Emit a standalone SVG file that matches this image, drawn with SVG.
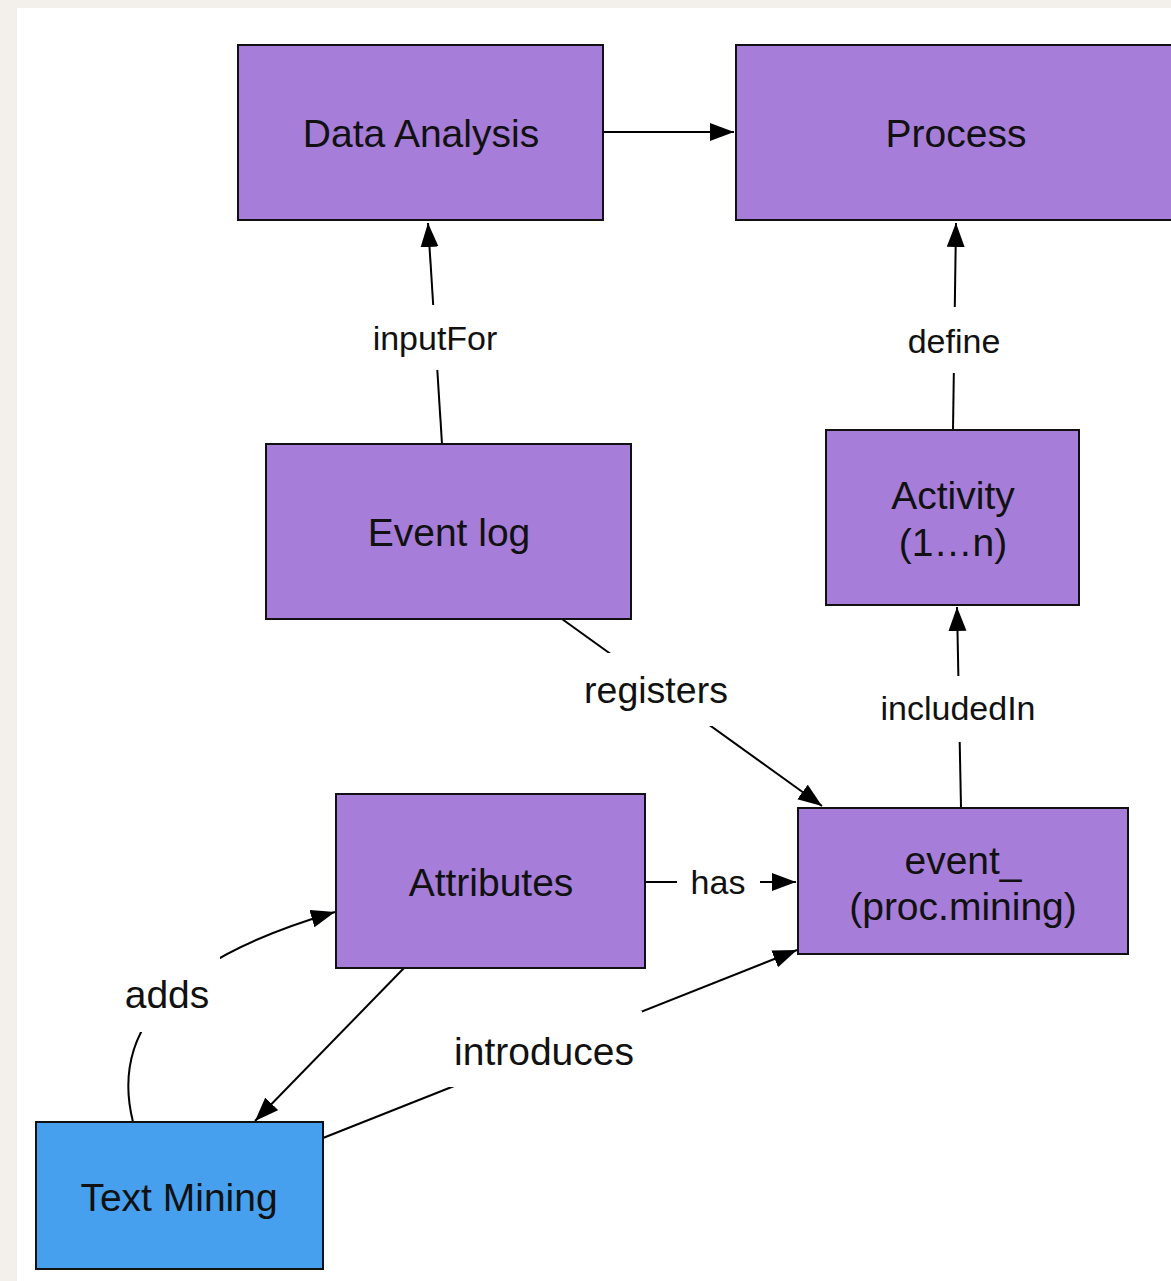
<svg xmlns="http://www.w3.org/2000/svg" width="1171" height="1281" viewBox="0 0 1171 1281">
<defs>
<marker id="arr" markerUnits="userSpaceOnUse" markerWidth="26" markerHeight="20" refX="24" refY="9" orient="auto">
<path d="M0,0 L24,9 L0,18 z" fill="#000"/>
</marker>
<style>
.node rect{stroke:#111;stroke-width:2}
.purple{fill:#a67dd8}
.blue{fill:#46a0ee}
.nt{font-family:"Liberation Sans",Arial,sans-serif;font-size:39px;fill:#111;text-anchor:middle}
.el{font-family:"Liberation Sans",Arial,sans-serif;font-size:34px;fill:#111;text-anchor:middle}
.elb{font-family:"Liberation Sans",Arial,sans-serif;font-size:39px;fill:#111;text-anchor:middle}
.edge{fill:none;stroke:#000;stroke-width:2}
.bg{fill:#fff}
</style>
</defs>
<rect x="0" y="0" width="1171" height="1281" fill="#f3f0eb"/>
<rect x="17" y="8" width="1154" height="1273" fill="#fff"/>

<g id="connectors">
<path class="edge" d="M603,132 L734,132" marker-end="url(#arr)"/>
<path class="edge" d="M442,444 L428,223" marker-end="url(#arr)"/>
<path class="edge" d="M953,430 L956,223" marker-end="url(#arr)"/>
<path class="edge" d="M961,807 L957,607" marker-end="url(#arr)"/>
<path class="edge" d="M562,619 L822,806" marker-end="url(#arr)"/>
<path class="edge" d="M645,882 L796,882" marker-end="url(#arr)"/>
<path class="edge" d="M133,1122 C110,1030 170,960 335,912" marker-end="url(#arr)"/>
<path class="edge" d="M404,968 L255,1121" marker-end="url(#arr)"/>
<path class="edge" d="M323,1138 L797,950" marker-end="url(#arr)"/>

<rect class="bg" x="366" y="305" width="138" height="65"/>
<text class="el" x="435" y="350">inputFor</text>
<rect class="bg" x="900" y="307" width="108" height="66"/>
<text class="el" x="954" y="353">define</text>
<rect class="bg" x="872" y="676" width="172" height="66"/>
<text class="el" x="958" y="720">includedIn</text>
<rect class="bg" x="580" y="653" width="154" height="73"/>
<text class="elb" x="656" y="703" style="font-size:37.5px">registers</text>
<rect class="bg" x="677" y="860" width="83" height="44"/>
<text class="el" x="718" y="894">has</text>
<rect class="bg" x="116" y="954" width="104" height="78"/>
<text class="elb" x="167" y="1008">adds</text>
<rect class="bg" x="446" y="1011" width="196" height="76"/>
<text class="elb" x="544" y="1065">introduces</text>
</g>

<g id="data-analysis" class="node">
<rect class="purple" x="238" y="45" width="365" height="175"/>
<text class="nt" x="421" y="147">Data Analysis</text>
</g>
<g id="process" class="node">
<rect class="purple" x="736" y="45" width="460" height="175"/>
<text class="nt" x="956" y="147">Process</text>
</g>
<g id="event-log" class="node">
<rect class="purple" x="266" y="444" width="365" height="175"/>
<text class="nt" x="449" y="546">Event log</text>
</g>
<g id="activity" class="node">
<rect class="purple" x="826" y="430" width="253" height="175"/>
<text class="nt" x="953" y="509">Activity</text>
<text class="nt" x="953" y="556">(1…n)</text>
</g>
<g id="attributes" class="node">
<rect class="purple" x="336" y="794" width="309" height="174"/>
<text class="nt" x="491" y="896">Attributes</text>
</g>
<g id="event" class="node">
<rect class="purple" x="798" y="808" width="330" height="146"/>
<text class="nt" x="963" y="874">event_</text>
<text class="nt" x="963" y="920">(proc.mining)</text>
</g>
<g id="text-mining" class="node">
<rect class="blue" x="36" y="1122" width="287" height="147"/>
<text class="nt" x="179" y="1211">Text Mining</text>
</g>
</svg>
